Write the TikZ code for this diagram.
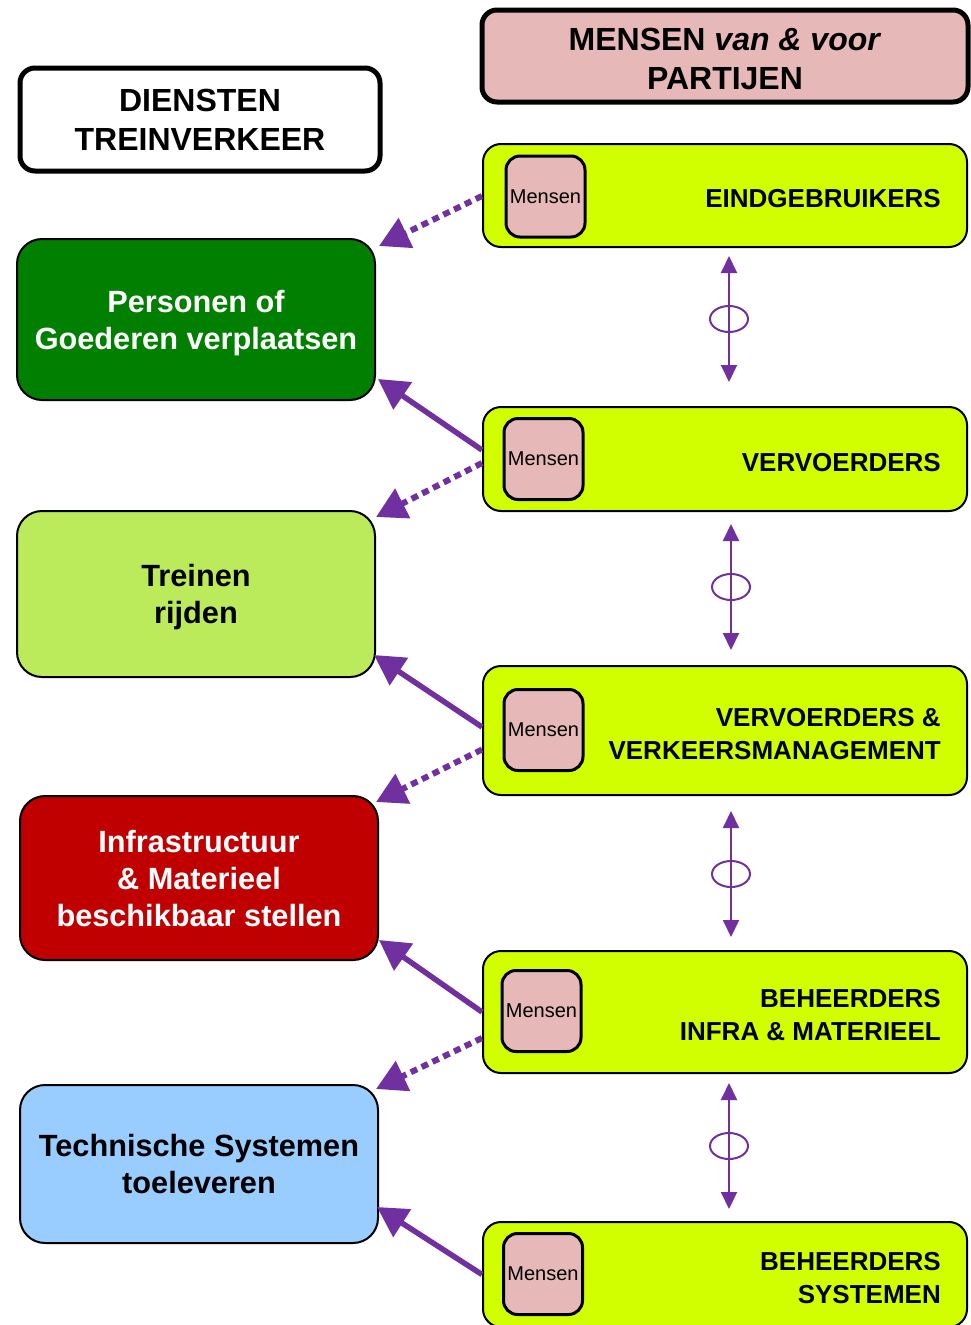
\documentclass[tikz,border=0pt]{standalone}
\usepackage{fontspec}
\setmainfont{Liberation Sans}
\usetikzlibrary{arrows.meta,calc,shapes.geometric}
\definecolor{purp}{HTML}{7030A0}
\definecolor{ygreen}{HTML}{D2FF00}
\definecolor{pinkc}{HTML}{E6B8B8}
\definecolor{dgreen}{HTML}{007F00}
\definecolor{lgreen}{HTML}{BBEB5B}
\definecolor{dred}{HTML}{C00000}
\definecolor{lblue}{HTML}{99CCFF}
\begin{document}
\begin{tikzpicture}[x=1pt,y=-1pt,
  rbox/.style={draw=black, line width=2pt, fill=ygreen, rounded corners=18pt, minimum width=484pt, inner sep=0pt},
  mbox/.style={draw=black, line width=3pt, fill=pinkc, rounded corners=14pt, minimum width=79pt, minimum height=81pt, inner sep=0pt, font=\fontsize{20}{24}\selectfont},
  lbox/.style={draw=black, line width=2pt, rounded corners=25pt, minimum width=358pt, inner sep=0pt, align=center, text depth=0pt, font=\fontsize{30.7}{37}\selectfont\bfseries},
  hbox/.style={draw=black, line width=5pt, rounded corners=15pt, inner sep=0pt, align=center, font=\fontsize{32}{39}\selectfont\bfseries},
  rtext/.style={anchor=east, align=right, inner sep=0pt, font=\fontsize{26}{33}\selectfont\bfseries},
  darrow/.style={purp, line width=6pt, dash pattern=on 7pt off 5pt, -{Triangle[length=30pt,width=32pt]}},
  sarrow/.style={purp, line width=5.5pt, -{Triangle[length=30pt,width=32pt]}},
  varrow/.style={purp, line width=2pt, {Triangle[length=17pt,width=16pt]}-{Triangle[length=17pt,width=16pt]}},
  ring/.style={draw=purp, line width=2pt, ellipse, minimum width=38pt, minimum height=26pt, inner sep=0pt}
]
\useasboundingbox (0,0) rectangle (971,1325);

% headers
\node[hbox, fill=white, minimum width=360pt, minimum height=103pt] (h1) at (200,119.5) {DIENSTEN\\TREINVERKEER};
\node[hbox, fill=pinkc, minimum width=486pt, minimum height=92pt] (h2) at (725,56) {};
\node[inner sep=0pt, align=center, font=\fontsize{32}{39}\selectfont\bfseries] (h2t) at (725,59) {MENSEN \textit{van \& voor}\\PARTIJEN};

% right boxes
\node[rbox, minimum height=103pt] (r1) at (725,195.5) {};
\node[rbox, minimum height=104pt] (r2) at (725,459) {};
\node[rbox, minimum height=129pt] (r3) at (725,730.5) {};
\node[rbox, minimum height=122pt] (r4) at (725,1012) {};
\node[rbox, minimum height=105pt] (r5) at (725,1274.5) {};

% mensen boxes
\node[mbox] (m1) at (545.5,196.5) {Mensen};
\node[mbox] (m2) at (543.5,459) {Mensen};
\node[mbox] (m3) at (543.5,730) {Mensen};
\node[mbox] (m4) at (541.5,1011) {Mensen};
\node[mbox] (m5) at (543,1274) {Mensen};

% right texts
\node[rtext] (t1) at ($(r1.east)+(-27,3.5)$) {EINDGEBRUIKERS};
\node[rtext] (t2) at ($(r2.east)+(-27,3.5)$) {VERVOERDERS};
\node[rtext] (t3) at ($(r3.east)+(-27,3.5)$) {VERVOERDERS \&\\VERKEERSMANAGEMENT};
\node[rtext] (t4) at ($(r4.east)+(-27,3.5)$) {BEHEERDERS\\INFRA \& MATERIEEL};
\node[rtext] (t5) at ($(r5.east)+(-27,4)$) {BEHEERDERS\\SYSTEMEN};

% left boxes
\node[lbox, fill=dgreen, text=white, minimum height=161pt] (l1) at (196,319.5) {Personen of\\Goederen verplaatsen};
\node[lbox, fill=lgreen, minimum height=166pt] (l2) at (196,594) {Treinen\\rijden};
\node[lbox, fill=dred, text=white, minimum height=164pt] (l3) at (199,878) {Infrastructuur\\\& Materieel\\beschikbaar stellen};
\node[lbox, fill=lblue, minimum height=158pt] (l4) at (199,1164) {Technische Systemen\\toeleveren};

% dotted arrows
\draw[darrow] ($(r1.west)+(0,0.5)$) -- ($(l1.north east)+(3,8)$);
\draw[darrow] ($(r2.west)+(0,4)$) -- ($(l2.north east)+(0,7)$);
\draw[darrow] ($(r3.west)+(0,19)$) -- ($(l3.north east)+(-3,7)$);
\draw[darrow] ($(r4.west)+(0,26)$) -- ($(l4.north east)+(-3,5)$);

% solid arrows
\draw[sarrow] ($(r2.west)+(0,-9)$) -- ($(l1.south east)+(2,-22)$);
\draw[sarrow] ($(r3.west)+(0,-3.5)$) -- ($(l2.south east)+(-2,-23)$);
\draw[sarrow] (r4.west) -- ($(l3.south east)+(0,-21)$);
\draw[sarrow] (r5.west) -- ($(l4.south east)+(-2,-37)$);

% vertical arrows
\draw[varrow] ($(r1.south)+(4,8)$) -- node[ring, pos=0.5] {} ($(r2.north)+(4,-24)$);
\draw[varrow] ($(r2.south)+(6,12)$) -- node[ring, pos=0.5] {} ($(r3.north)+(6,-15)$);
\draw[varrow] ($(r3.south)+(6,15)$) -- node[ring, pos=0.5] {} ($(r4.north)+(6,-13)$);
\draw[varrow] ($(r4.south)+(4,9)$) -- node[ring, pos=0.5] {} ($(r5.north)+(4,-12)$);
\end{tikzpicture}
\end{document}
